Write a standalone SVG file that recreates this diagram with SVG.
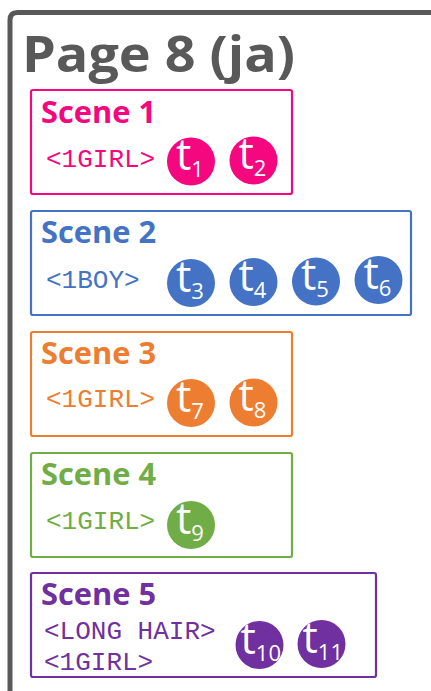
<svg xmlns="http://www.w3.org/2000/svg" width="431" height="691" viewBox="0 0 431 691">
<style>
  .frame{fill:none;stroke:#595959;stroke-width:5}
  .title{font-family:"Open Sans","Liberation Sans",sans-serif;font-weight:bold;font-size:50px;fill:#595959}
  .box{fill:#fff;stroke-width:2.2}
  .hd{font-family:"Open Sans","Liberation Sans",sans-serif;font-weight:bold;font-size:30px}
  .tag{font-family:"Liberation Mono","Courier New",monospace;font-size:26px}
  .t{font-family:"Open Sans","Liberation Sans",sans-serif;font-size:43px;fill:#fff}
  .sub{font-size:22px}
  .pink{fill:#F5077F}
  .blue{fill:#4472C4}
  .orange{fill:#ED7D31}
  .green{fill:#70AD47}
  .purple{fill:#7030A0}
</style>
<defs>
  <clipPath id="c10"><circle cx="259.5" cy="645" r="24"/></clipPath>
  <clipPath id="c11"><circle cx="321.5" cy="644" r="24"/></clipPath>
</defs>
<rect width="431" height="691" fill="#fff"/>
<g id="page">
  <path class="frame" d="M10,700 L10,20 Q10,12.5 17.5,12.5 L440,12.5"/>
  <text class="title" x="22" y="72" textLength="273" lengthAdjust="spacingAndGlyphs">Page 8 (ja)</text>
</g>
<g id="scene1">
  <rect class="box" x="31" y="90" width="261" height="104" rx="2" stroke="#F5077F"/>
  <text class="hd pink" x="41" y="123" textLength="115" lengthAdjust="spacingAndGlyphs">Scene 1</text>
  <text class="tag pink" x="46" y="167">&lt;1GIRL&gt;</text>
  <circle class="pink" cx="191" cy="161.5" r="24"/>
  <text class="t" x="176" y="170">t<tspan class="sub" dy="7">1</tspan></text>
  <circle class="pink" cx="253.5" cy="160.5" r="24"/>
  <text class="t" x="238.5" y="169">t<tspan class="sub" dy="7">2</tspan></text>
</g>
<g id="scene2">
  <rect class="box" x="31" y="211" width="380" height="104" rx="2" stroke="#4472C4"/>
  <text class="hd blue" x="41" y="243" textLength="115" lengthAdjust="spacingAndGlyphs">Scene 2</text>
  <text class="tag blue" x="46" y="288">&lt;1BOY&gt;</text>
  <circle class="blue" cx="191" cy="283" r="24"/>
  <text class="t" x="176" y="291.5">t<tspan class="sub" dy="7">3</tspan></text>
  <circle class="blue" cx="253.5" cy="282" r="24"/>
  <text class="t" x="238.5" y="290.5">t<tspan class="sub" dy="7">4</tspan></text>
  <circle class="blue" cx="316" cy="281.5" r="24"/>
  <text class="t" x="301" y="290">t<tspan class="sub" dy="7">5</tspan></text>
  <circle class="blue" cx="378.5" cy="280" r="24"/>
  <text class="t" x="363.5" y="288.5">t<tspan class="sub" dy="7">6</tspan></text>
</g>
<g id="scene3">
  <rect class="box" x="31" y="332" width="261" height="104" rx="2" stroke="#ED7D31"/>
  <text class="hd orange" x="41" y="364" textLength="115" lengthAdjust="spacingAndGlyphs">Scene 3</text>
  <text class="tag orange" x="46" y="407">&lt;1GIRL&gt;</text>
  <circle class="orange" cx="191" cy="403" r="24"/>
  <text class="t" x="176" y="411.5">t<tspan class="sub" dy="7">7</tspan></text>
  <circle class="orange" cx="253.5" cy="402.5" r="24"/>
  <text class="t" x="238.5" y="411">t<tspan class="sub" dy="7">8</tspan></text>
</g>
<g id="scene4">
  <rect class="box" x="31" y="453" width="261" height="104" rx="2" stroke="#70AD47"/>
  <text class="hd green" x="41" y="485" textLength="115" lengthAdjust="spacingAndGlyphs">Scene 4</text>
  <text class="tag green" x="46" y="528.5">&lt;1GIRL&gt;</text>
  <circle class="green" cx="191" cy="525" r="24"/>
  <text class="t" x="176" y="533.5">t<tspan class="sub" dy="7">9</tspan></text>
</g>
<g id="scene5">
  <rect class="box" x="31" y="573" width="345" height="104" rx="2" stroke="#7030A0"/>
  <text class="hd purple" x="41" y="605" textLength="115" lengthAdjust="spacingAndGlyphs">Scene 5</text>
  <text class="tag purple" x="44" y="638.5">&lt;LONG HAIR&gt;</text>
  <text class="tag purple" x="44" y="669.5">&lt;1GIRL&gt;</text>
  <circle class="purple" cx="259.5" cy="645" r="24"/>
  <text class="t" x="240.5" y="653.5" clip-path="url(#c10)">t<tspan class="sub" dy="7">10</tspan></text>
  <circle class="purple" cx="321.5" cy="644" r="24"/>
  <text class="t" x="302.5" y="652.5" clip-path="url(#c11)">t<tspan class="sub" dy="7">11</tspan></text>
</g>
</svg>
